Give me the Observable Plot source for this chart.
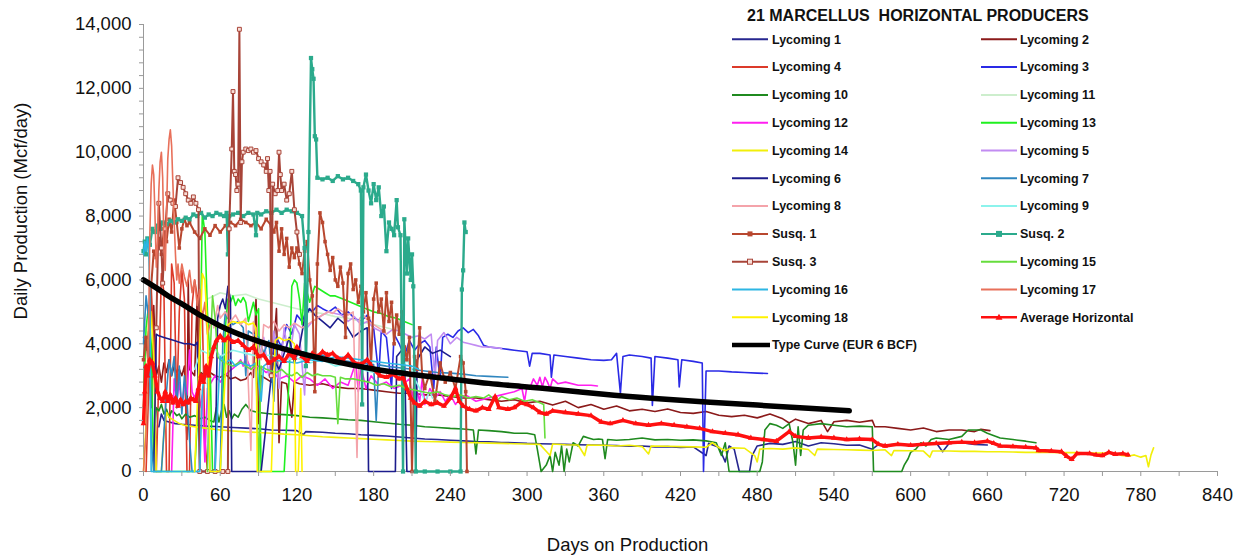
<!DOCTYPE html>
<html><head><meta charset="utf-8">
<script src="https://cdn.jsdelivr.net/npm/d3@7"></script>
<script src="https://cdn.jsdelivr.net/npm/@observablehq/plot@0.6"></script>
<style>
body{margin:0;background:#fff;}
#wrap{position:relative;width:1242px;height:557px;font-family:"Liberation Sans",Arial,Helvetica,sans-serif;}
#legend{position:absolute;left:0;top:0;pointer-events:none;}
</style></head><body><div id="wrap"></div>
<script>
// ---------- tick values ----------
const xMajorTicks = [0,60,120,180,240,300,360,420,480,540,600,660,720,780,840];
const xMinorTicks = d3.range(0, 841, 30);
const yMajorTicks = [0,2000,4000,6000,8000,10000,12000,14000];
const yMinorTicks = d3.range(0, 14001, 400);

// ---------- series names (legend order) ----------
const seriesNames = ["Lycoming 1","Lycoming 2","Lycoming 4","Lycoming 3","Lycoming 10","Lycoming 11",
  "Lycoming 12","Lycoming 13","Lycoming 14","Lycoming 5","Lycoming 6","Lycoming 7","Lycoming 8","Lycoming 9",
  "Susq. 1","Susq. 2","Susq. 3","Lycoming 15","Lycoming 16","Lycoming 17","Lycoming 18",
  "Average Horizontal","Type Curve (EUR 6 BCF)"];

// ---------- data: [day, Mcf/day] ----------
const lyc1 = [[12,1400],[14,1800],[16,1600],[20,1550],[25,1500],[30,1480],[40,1450],[50,1420],[60,1400],[70,1380],[80,1360],[90,1340],[100,1300],[110,1290],[120,1280],[125,1150],[127,1250],[140,1230],[150,1200],[160,1180],[170,1150],[180,1130],[190,1110],[200,1080],[210,1050],[220,1020],[230,1000],[240,980],[250,960],[260,940],[270,930],[280,910],[290,900],[300,880],[310,870],[320,860],[330,850],[340,840],[350,830],[360,820],[370,810],[380,790],[390,800],[400,770],[410,780],[420,750],[430,770],[440,500],[442,880],[450,760],[455,300],[458,800],[462,700],[466,0],[474,0],[476,500],[480,800],[490,880],[500,850],[510,940],[520,800],[530,900],[540,870],[550,820],[560,830],[570,700],[575,850],[580,820],[590,860],[600,800],[610,850],[620,900],[625,620],[630,880],[640,900],[650,850],[660,830]];
const lyc2 = [[0,4200],[2,3800],[4,4400],[6,2000],[8,5200],[10,3000],[12,3300],[14,2800],[16,3400],[18,3100],[20,3500],[22,3000],[24,3300],[26,3100],[28,3200],[30,3000],[32,3300],[34,1000],[35,6000],[36,3200],[38,3100],[40,3000],[42,5500],[43,3000],[45,3100],[48,3000],[52,3100],[56,3000],[60,2950],[64,3050],[68,2900],[72,2950],[76,2850],[80,2900],[84,3100],[86,2950],[88,5400],[90,1500],[92,3000],[96,2900],[100,2800],[104,5100],[106,900],[108,2800],[112,2750],[116,1700],[118,2800],[122,2750],[130,2700],[140,2750],[150,2650],[160,2600],[170,2600],[180,2550],[190,2500],[200,2450],[210,2450],[220,2400],[230,2400],[240,2350],[250,2300],[260,2300],[270,2250],[280,2200],[290,2250],[300,2150],[310,2200],[320,2080],[330,2200],[340,2000],[350,2100],[360,1950],[370,2050],[380,1900],[390,1950],[400,1880],[410,1960],[420,1850],[430,1820],[440,1880],[450,1760],[460,1720],[470,1760],[480,1680],[490,1800],[500,1650],[505,1520],[510,1640],[520,1500],[530,1600],[535,1250],[540,1560],[550,1600],[560,1540],[570,1600],[572,1400],[580,1400],[590,1350],[600,1300],[610,1360],[620,1250],[630,1300],[640,1300],[650,1250],[655,1320],[662,1280]];
const lyc4 = [[2,0],[4,2500],[6,5800],[8,4000],[10,0],[12,3000],[14,6200],[16,5600],[18,0],[20,0],[22,6500],[24,5900],[26,2000],[28,5000],[30,6300],[32,5400],[34,0],[36,0],[38,5200],[40,6000],[42,5500],[44,4800],[46,5000],[48,1000],[50,0]];
const lyc3 = [[100,3500],[104,4200],[108,3900],[112,4600],[116,4300],[120,4900],[124,4700],[128,5100],[132,5000],[136,5200],[140,5100],[145,5000],[150,5150],[155,4900],[160,5000],[165,4800],[170,4700],[175,4900],[180,4500],[184,3000],[186,4400],[190,4200],[194,2600],[196,4300],[200,4000],[204,3600],[208,4100],[212,3800],[216,4000],[220,4100],[224,3900],[227,2600],[229,3900],[232,2900],[234,4200],[238,4300],[242,4200],[246,4400],[250,4500],[254,4350],[258,4450],[262,4250],[266,3950],[270,3900],[280,3850],[290,3800],[300,3750],[302,3300],[304,3700],[310,3700],[318,3650],[319,2950],[321,3650],[330,3600],[340,3550],[350,3500],[360,3480],[366,3500],[370,3700],[373,2450],[375,3600],[380,3650],[390,3600],[397,3550],[398,2070],[400,3600],[410,3550],[418,3500],[419,2650],[421,3500],[430,3450],[437,3400],[438,0],[440,3150],[450,3150],[460,3120],[470,3100],[480,3080],[488,3070]];
const lyc10 = [[8,800],[10,2000],[12,1900],[14,2100],[16,1800],[18,1950],[20,1700],[22,1900],[24,1850],[26,1750],[28,1800],[30,1650],[33,1800],[36,1700],[40,1750],[44,1650],[48,1700],[52,1600],[55,1550],[57,2000],[59,1550],[61,1900],[63,2100],[65,1700],[67,1900],[69,1650],[71,1800],[74,1700],[77,1950],[80,2100],[84,1900],[90,1850],[100,1800],[110,1780],[120,1750],[130,1700],[140,1680],[150,1650],[160,1620],[170,1600],[180,1560],[190,1520],[200,1480],[210,1450],[220,1400],[230,1380],[240,1350],[250,1330],[258,1300],[260,550],[262,1300],[270,1280],[280,1250],[290,1200],[300,1200],[306,1150],[308,700],[311,0],[315,200],[318,500],[320,0],[322,600],[325,200],[327,800],[329,0],[331,700],[333,300],[336,900],[340,800],[344,1100],[348,1050],[352,1000],[356,1020],[359,1000],[361,400],[363,1000],[370,980],[380,1000],[390,1050],[400,990],[410,1000],[420,980],[430,990],[440,960],[448,900],[452,500],[455,900],[458,0],[470,0],[482,0],[484,300],[486,1300],[490,1500],[495,1450],[500,1350],[505,1500],[508,900],[510,200],[512,1400],[514,500],[516,1300],[520,1450],[530,1500],[540,1450],[550,1400],[560,1420],[570,1400],[571,0],[585,0],[593,0],[595,200],[598,400],[600,600],[604,700],[608,900],[612,800],[616,1000],[620,1050],[630,1000],[640,1100],[645,1300],[655,1300],[660,1200],[670,1050],[680,1000],[690,950],[698,900]];
const lyc11 = [[50,5400],[60,5600],[70,5500],[80,5550],[90,5400],[100,5300],[110,5200],[120,5100],[130,5000],[140,4950],[150,4850],[160,4800],[170,4700],[180,4600],[190,4500],[200,4400]];
const lyc12 = [[22,0],[24,2900],[26,2200],[28,2800],[30,2000],[32,2700],[34,2400],[36,3800],[38,2500],[40,2300],[42,2600],[44,2000],[46,2400],[48,300],[50,2600],[56,3000],[60,2800],[66,3100],[72,3300],[76,3500],[78,3300],[80,3600],[84,3200],[90,3300],[96,3100],[100,3200],[106,2900],[112,3000],[118,2800],[124,3000],[130,2900],[136,2700],[142,2900],[148,2600],[154,2800],[160,2700],[166,3400],[168,2500],[170,3300],[174,2600],[178,3000],[184,2700],[190,2800],[196,2600],[202,2700],[208,2900],[210,2300],[212,2800],[216,2200],[218,2900],[220,2100],[224,2600],[228,2300],[232,2500],[236,2200],[240,2400],[244,2100],[248,2300],[252,2400],[256,2300],[260,2200],[270,2300],[280,2400],[290,2500],[296,2600],[298,2200],[300,2700],[302,2600],[305,2900],[308,2700],[310,2950],[312,2650],[314,2950],[316,2800],[318,2600],[320,2900],[324,2750],[330,2800],[340,2700],[350,2700],[355,2680]];
const lyc13 = [[0,2000],[2,4500],[4,5200],[6,4000],[8,0],[12,0],[40,0],[44,3000],[46,8100],[48,7500],[50,5000],[52,3500],[54,0],[60,0],[64,4500],[66,5400],[68,5300],[70,5500],[72,5200],[74,5400],[76,5300],[78,5450],[80,5300],[82,4700],[86,5300],[88,4900],[90,5100],[92,0],[110,0],[114,3000],[116,5800],[118,6000],[120,5900],[122,5400],[124,4600],[126,5900],[128,5600],[130,5300],[134,5800],[138,5700],[142,5600],[146,5500],[150,5500],[156,5400],[162,5300],[168,5200],[174,5100],[180,5000],[186,4950],[192,4850],[198,4800],[204,4700],[210,4600]];
const lyc14 = [[0,0],[2,1500],[4,4800],[6,5000],[8,3500],[10,0],[14,0],[16,1200],[18,1850],[20,1700],[24,1600],[28,1500],[32,1450],[36,1420],[40,1400],[50,1350],[60,1300],[70,1270],[80,1240],[90,1220],[100,1200],[110,1170],[120,1150],[130,1120],[140,1090],[150,1070],[160,1050],[170,1030],[180,1010],[190,990],[200,970],[210,950],[220,940],[230,930],[240,920],[250,910],[260,900],[270,890],[280,880],[290,870],[300,860],[310,850],[318,500],[320,860],[330,840],[340,830],[345,500],[347,830],[360,820],[370,800],[380,820],[390,780],[395,550],[397,800],[410,790],[420,780],[430,770],[440,760],[445,900],[450,750],[455,650],[460,740],[470,730],[478,500],[480,300],[482,700],[490,720],[500,700],[510,740],[520,690],[525,500],[527,700],[540,690],[550,680],[560,670],[570,660],[580,680],[585,500],[587,660],[600,650],[610,640],[615,450],[617,640],[630,640],[640,630],[650,630],[660,620],[670,620],[680,610],[690,600],[700,600],[710,600],[720,590],[730,590],[740,580],[750,580],[760,570],[765,500],[770,480],[775,520],[780,450],[784,500],[786,150],[788,520],[790,740]];
const lyc5 = [[90,3500],[94,4200],[98,3000],[102,4400],[106,2600],[110,4500],[114,3500],[118,4600],[122,4300],[126,2400],[128,4500],[132,4700],[136,4800],[140,4900],[145,5000],[150,4950],[155,4900],[160,4700],[165,4850],[170,4600],[175,4700],[180,4500],[185,4400],[190,4300],[195,4450],[200,4400],[205,4300],[210,4200],[215,4250],[220,4150],[225,4300],[228,2900],[230,4100],[235,4350],[240,4000],[245,4200],[250,4050],[255,4000],[260,3950],[265,3900],[270,3900],[275,3880],[280,3850]];
const lyc6 = [[8,0],[10,4300],[12,4250],[16,4200],[20,4150],[24,4100],[28,4050],[32,4000],[36,4000],[40,3950],[42,4050],[44,0],[50,0],[56,0],[58,4800],[60,5200],[62,5400],[64,5100],[66,5800],[68,5400],[69,0],[80,0],[92,0],[96,1500],[100,3000],[102,3500],[106,3200],[110,3700],[114,4200],[118,3400],[122,3900],[126,4800],[130,5100],[134,4900],[140,4700],[146,4500],[152,4800],[158,4600],[164,4200],[170,4400],[175,4500],[176,0],[190,0],[197,0],[198,3600],[204,3900],[206,0],[213,0],[214,3500],[220,3900],[226,3700],[232,3800],[240,3600]];
const lyc7 = [[0,4000],[2,5500],[4,4800],[6,1000],[8,0],[14,0],[18,2500],[20,3500],[22,3000],[24,3600],[26,2000],[28,3300],[30,1800],[32,3000],[34,2200],[36,1000],[38,0],[60,0],[62,4000],[64,5000],[66,4800],[70,4600],[74,4700],[78,4500],[80,3000],[82,4400],[86,4300],[90,4200],[94,3700],[98,4100],[102,2200],[104,4000],[108,3900],[112,3800],[116,3850],[120,3700],[125,3750],[130,3650],[135,3600],[140,3650],[145,3550],[150,3500],[160,3450],[170,3400],[180,3350],[182,1600],[184,3340],[190,3300],[200,3250],[210,3200],[220,3150],[230,3100],[240,3080],[250,3050],[260,3000],[270,2980],[280,2960],[285,2950]];
const lyc8 = [[55,4500],[58,5200],[60,4800],[64,5000],[68,4700],[72,4900],[76,4600],[80,4800],[84,660],[86,4700],[92,3500],[94,4600],[98,4500],[102,4700],[106,4400],[110,4600],[114,4500],[118,4650],[124,4500],[128,4600],[132,4700],[136,4800],[140,4900],[144,5000],[148,4950],[152,5100],[156,5000],[160,4900],[164,5000],[167,440],[169,4800],[172,4900],[176,4700],[180,4600],[184,4500],[188,4400],[190,4300]];
const lyc9 = [[40,3200],[45,3800],[50,3700],[55,3900],[60,3600],[70,3800],[80,3700],[90,3600],[100,3650],[110,3500],[120,3550],[130,3400],[140,3500],[150,3300],[160,3400],[170,3200],[180,3100],[190,3150],[200,3000],[206,3500],[209,3300],[212,2900],[216,2600],[220,2200],[224,2500],[226,2300]];
const susq1 = [[0,3500],[2,4200],[4,3300],[6,5800],[8,6900],[10,6700],[12,7300],[14,6800],[16,7600],[18,7200],[20,7900],[22,7500],[24,8500],[26,7800],[28,7000],[30,7600],[32,7900],[34,7700],[36,7800],[40,7500],[44,7300],[48,7600],[52,7400],[56,7700],[60,7500],[64,7700],[68,7800],[72,7700],[76,7900],[80,7800],[84,7700],[88,7800],[92,7600],[96,7900],[100,7700],[102,7500],[104,7800],[106,6900],[108,7600],[110,6800],[112,7300],[114,6400],[116,7000],[118,6700],[120,7000],[122,6500],[124,6200],[126,6900],[128,7200],[130,6000],[132,5500],[134,2500],[136,6500],[138,8100],[140,7800],[142,7200],[144,6800],[146,6300],[148,6700],[150,6000],[152,5800],[154,6400],[156,5900],[158,4200],[160,6200],[162,6500],[164,5700],[166,6000],[168,5300],[170,5800],[172,5000],[174,5600],[176,4800],[178,3300],[180,5400],[182,5900],[184,5000],[186,5400],[188,4400],[190,5600],[192,4700],[194,5300],[196,4000],[198,4900],[200,4300],[202,5000],[204,3900],[206,3500],[208,4200],[210,0],[212,3600],[214,3200],[216,4500],[218,3000],[220,2600],[224,3100],[228,2200],[232,3400],[236,2800],[240,3100],[244,2600],[248,3600],[250,3400],[252,2500],[253,0]];
const susq2 = [[0,6900],[1,7200],[2,6800],[3,7300],[5,7100],[7,7600],[9,7500],[11,7700],[13,7600],[15,7800],[18,7750],[21,7850],[24,7800],[27,7900],[30,7850],[33,7950],[36,7900],[39,8050],[42,8000],[45,8100],[48,7950],[51,8050],[54,8000],[57,8100],[60,8050],[63,8000],[65,8100],[66,6800],[67,8000],[70,8050],[74,8100],[78,8000],[82,8100],[86,8050],[88,7400],[89,8100],[92,8050],[96,8150],[100,8100],[104,8200],[108,8100],[112,8200],[116,8150],[120,8100],[124,8000],[126,7000],[127,3300],[129,7500],[131,12950],[132,12600],[133,12300],[134,10500],[135,10400],[136,9200],[140,9150],[144,9200],[148,9100],[152,9250],[156,9150],[160,9200],[164,9100],[168,9000],[170,8800],[171,2100],[172,8900],[174,9300],[176,8800],[178,8400],[180,9000],[182,8500],[184,8900],[186,8000],[188,8300],[190,6900],[192,7800],[194,7600],[196,7400],[198,8500],[199,7650],[201,7400],[203,0],[204,7900],[206,6200],[207,7300],[209,6000],[210,6800],[211,5800],[213,0],[220,0],[230,0],[240,0],[248,0],[249,5700],[250,6300],[251,7800],[252,7500]];
const susq3 = [[10,4500],[12,8400],[14,7000],[15,5900],[17,7600],[19,8700],[21,8500],[23,8400],[25,8300],[27,9200],[29,9050],[31,8900],[33,8700],[35,8500],[37,8400],[39,8600],[41,8400],[43,8200],[44,0],[50,0],[56,0],[62,0],[66,0],[67,7600],[69,10100],[70,11900],[71,9400],[72,9300],[73,8800],[74,9000],[75,13850],[76,7800],[77,9700],[78,10000],[80,10100],[82,10050],[84,10100],[86,10000],[88,10050],[90,9800],[92,9700],[94,9600],[96,9400],[97,9800],[98,8800],[99,9400],[100,3000],[101,9000],[103,8700],[105,8800],[106,10000],[107,9300],[108,8800],[110,9000],[112,8500],[114,8700],[116,9400],[118,8200],[120,7500],[122,6800]];
const lyc15 = [[50,0],[52,3500],[54,5500],[56,4800],[58,3600],[60,3500],[64,3400],[70,3300],[76,3450],[80,3300],[84,3200],[88,3350],[90,0],[92,3300],[96,3200],[100,3150],[104,3100],[108,3200],[112,3050],[116,3000],[120,3100],[124,2950],[128,3100],[132,3000],[136,3050],[140,3000],[146,3000],[150,2950],[152,1500],[154,2950],[158,2900],[164,2900],[170,2850],[176,2800],[182,2700],[188,2750],[194,2650],[200,2700],[206,2600],[212,2550],[218,2500],[224,2450],[230,2500],[236,2400],[242,2350],[248,2400],[254,2300],[260,2350],[266,2300],[270,2400],[276,2200],[280,2350],[286,2250],[292,2300],[298,2200],[304,2250],[310,2150],[313,2100],[314,1050]];
const lyc16 = [[0,6800],[1,7200],[2,6900],[3,7300],[4,7000],[5,5500],[6,0],[10,0],[20,0],[30,0],[40,0],[44,0],[46,2500],[48,3200],[50,3000],[52,0],[56,0],[58,2000],[60,3600],[64,3400],[68,3500],[72,3300],[76,3400],[80,3350],[84,3300],[88,3400],[92,2200],[94,3300],[100,3500],[110,3450],[120,3400],[130,3500],[140,3450],[150,3600],[160,3550],[170,3500],[180,3450],[190,3400],[200,3350],[210,3300],[215,3200]];
const lyc17 = [[0,0],[2,1200],[4,4500],[5,7500],[6,9000],[7,9600],[8,9300],[9,8000],[10,6400],[11,7200],[12,8800],[13,9700],[14,10000],[15,9200],[16,7000],[17,6300],[18,8000],[19,9800],[20,10400],[21,10700],[22,10200],[23,9000],[24,7800],[25,6800],[26,6000],[27,6500],[28,5900],[30,6500],[32,6100],[34,5800],[36,6300],[38,5600],[40,6000],[42,5200],[44,5700],[46,4800],[48,5300],[50,4300],[52,4600]];
const lyc18 = [[40,0],[44,4000],[46,6200],[48,6000],[50,4500],[52,0],[60,0],[66,4600],[70,4700],[74,4650],[78,4700],[82,4600],[86,4650],[88,4500],[89,0],[95,0],[100,0],[103,4100],[106,4200],[110,4100],[114,4150],[118,4000],[119,0],[121,0],[123,2600],[124,0]];
const avgH = [[0,1500],[1,2500],[2,3300],[3,3000],[5,3500],[7,3400],[9,3000],[11,2500],[13,2300],[15,2200],[17,2500],[19,2200],[21,2400],[23,2150],[25,2300],[27,2050],[29,2250],[31,2100],[33,2200],[35,2150],[37,2300],[39,2250],[41,2200],[43,2600],[45,3000],[47,2800],[49,3300],[51,3000],[53,3600],[55,3900],[57,4100],[60,4250],[63,4100],[66,4200],[70,4050],[74,4100],[78,3950],[82,3800],[86,3900],[90,3600],[94,3650],[98,3400],[102,3500],[106,3600],[110,3450],[114,3700],[118,3550],[120,3900],[124,3600],[128,3450],[132,3700],[136,3600],[140,3750],[144,3650],[148,3700],[152,3550],[156,3500],[160,3650],[165,3400],[170,3350],[175,3500],[180,3200],[185,3000],[190,2950],[195,3050],[200,2900],[203,2950],[206,2600],[209,2300],[212,2150],[216,2050],[220,2200],[225,2100],[230,2150],[235,2050],[240,2300],[244,2600],[247,2200],[250,2050],[255,1950],[260,1900],[265,2000],[270,1950],[275,2350],[278,2000],[285,1950],[290,2000],[295,2150],[300,2100],[305,2000],[310,1850],[315,1800],[320,1900],[330,1850],[340,1800],[350,1750],[358,1550],[365,1500],[375,1600],[385,1500],[395,1450],[405,1500],[415,1450],[425,1400],[435,1350],[445,1250],[455,1200],[465,1150],[475,1050],[485,1000],[495,950],[505,1250],[510,1100],[520,1050],[530,1080],[540,1050],[550,1000],[560,1020],[570,1000],[575,850],[580,800],[590,850],[600,820],[610,850],[620,880],[630,900],[640,920],[650,900],[660,950],[665,880],[670,800],[680,780],[690,760],[698,740],[700,660],[710,640],[718,620],[722,480],[726,380],[730,560],[740,560],[745,520],[750,500],[755,600],[760,540],[766,560],[770,520]];
const typeDays = [0,10,20,30,45,60,80,100,120,150,180,210,240,270,300,330,360,400,440,480,520,552];
const typeVals = [6000,5750,5480,5250,4880,4560,4220,3950,3730,3440,3210,3040,2900,2760,2650,2540,2420,2290,2180,2080,1980,1900];
const typeCurve = typeDays.map((d, i) => [d, typeVals[i]]);

// ---------- styles ----------
const seriesColors = ["#26268f","#8b1a1a","#dc3a2a","#2a2ae6","#1f8a1f","#cdeecd","#ff1ff0","#1ff01f","#f2ef0a",
  "#c28cf2","#1c1c8c","#2f86bf","#f4a3aa","#8cf3ec","#b8472f","#2baa8c","#a84438","#66dd3c","#2db6e3","#e8705a","#fff200",
  "#ff1010","#000000"];
const seriesData = [lyc1,lyc2,lyc4,lyc3,lyc10,lyc11,lyc12,lyc13,lyc14,lyc5,lyc6,lyc7,lyc8,lyc9,susq1,susq2,susq3,lyc15,lyc16,lyc17,lyc18,avgH,typeCurve];

const X = d => d[0], Y = d => d[1];
const marks = [];
marks.push(Plot.ruleY([0], {stroke: "#9a9a9a"}));
marks.push(Plot.ruleX([0], {stroke: "#9a9a9a"}));
seriesData.forEach((pts, i) => {
  const name = seriesNames[i], color = seriesColors[i];
  if (name === "Average Horizontal" || name.startsWith("Type")) return;
  const isSusq = name.startsWith("Susq");
  marks.push(Plot.line(pts, {x: X, y: Y, stroke: color, strokeWidth: isSusq ? (name === "Susq. 2" ? 2.4 : 2) : 1.6}));
  if (name === "Susq. 1") marks.push(Plot.dot(pts, {x: X, y: Y, symbol: "square", r: 2, fill: color}));
  if (name === "Susq. 2") marks.push(Plot.dot(pts, {x: X, y: Y, symbol: "square", r: 2.4, fill: color}));
  if (name === "Susq. 3") marks.push(Plot.dot(pts, {x: X, y: Y, symbol: "square", r: 2.2, fill: "#f8ddd6", stroke: color, strokeWidth: 1}));
});
marks.push(Plot.line(avgH, {x: X, y: Y, stroke: seriesColors[21], strokeWidth: 3.5}));
marks.push(Plot.dot(avgH, {x: X, y: Y, symbol: "triangle", r: 2.2, fill: seriesColors[21]}));
marks.push(Plot.line(typeCurve, {x: X, y: Y, stroke: "#000", strokeWidth: 5.5, curve: "monotone-x", strokeLinecap: "round"}));

// axes
marks.push(Plot.axisY({ticks: yMinorTicks, tickSize: 4, tickFormat: () => "", stroke: "#9a9a9a", label: null}));
marks.push(Plot.axisY({ticks: yMajorTicks, tickSize: 0, tickPadding: 12, tickFormat: d3.format(","), label: null}));
marks.push(Plot.axisX({ticks: xMinorTicks, tickSize: 5, tickFormat: () => "", stroke: "#9a9a9a", label: null}));
marks.push(Plot.axisX({ticks: xMajorTicks, tickSize: 0, tickPadding: 16, label: null}));
marks.push(Plot.text(["Days on Production"], {text: d => d, frameAnchor: "bottom", textAnchor: "middle", lineAnchor: "middle", dx: -53, dy: 74, fontSize: 18.5}));
marks.push(Plot.text(["Daily Production (Mcf/day)"], {text: d => d, frameAnchor: "left", textAnchor: "middle", lineAnchor: "middle", dx: -122, dy: -37, rotate: -90, fontSize: 18.5}));

const chart = Plot.plot({
  width: 1242, height: 557,
  marginLeft: 143, marginRight: 25, marginTop: 24, marginBottom: 86,
  x: {domain: [0, 840]},
  y: {domain: [0, 14000]},
  style: {fontFamily: "'Liberation Sans', Arial, Helvetica, sans-serif", fontSize: "18.5px", color: "#111", background: "#fff", overflow: "visible"},
  marks
});
const wrap = document.getElementById("wrap");
wrap.appendChild(chart);

// ---------- legend overlay ----------
const lg = d3.select(wrap).append("svg").attr("id", "legend").attr("width", 1242).attr("height", 557)
  .style("font-family", "'Liberation Sans', Arial, Helvetica, sans-serif");
lg.append("text").attr("x", 747).attr("y", 15).attr("dy", "0.35em").attr("font-size", 16).attr("font-weight", "bold")
  .attr("fill", "#111").style("white-space", "pre").text("21 MARCELLUS  HORIZONTAL PRODUCERS");
const rowY = r => 39.3 + r * 27.8;
seriesNames.forEach((name, i) => {
  const r = Math.floor(i / 2), c = i % 2;
  const x0 = c === 0 ? 732 : 981, x1 = x0 + 36, ty = rowY(r), color = seriesColors[i];
  const isType = name.startsWith("Type");
  lg.append("line").attr("x1", x0).attr("x2", isType ? x1 + 2 : x1).attr("y1", ty).attr("y2", ty)
    .attr("stroke", color).attr("stroke-width", isType ? 4.5 : (name === "Average Horizontal" ? 2.5 : 2));
  const mx = (x0 + x1) / 2;
  if (name === "Susq. 1" || name === "Susq. 2") {
    const s = name === "Susq. 2" ? 6 : 5;
    lg.append("rect").attr("x", mx - s / 2).attr("y", ty - s / 2).attr("width", s).attr("height", s).attr("fill", color);
  } else if (name === "Susq. 3") {
    lg.append("rect").attr("x", mx - 2.5).attr("y", ty - 2.5).attr("width", 5).attr("height", 5).attr("fill", "#f8ddd6").attr("stroke", color);
  } else if (name === "Average Horizontal") {
    lg.append("path").attr("d", `M${mx},${ty - 3.5}L${mx + 3.5},${ty + 2.5}L${mx - 3.5},${ty + 2.5}Z`).attr("fill", color);
  }
  lg.append("text").attr("x", c === 0 ? 772 : 1020).attr("y", ty).attr("dy", "0.35em")
    .attr("font-size", 12.5).attr("font-weight", "bold").attr("fill", "#111").text(name);
});
</script>
</body></html>
